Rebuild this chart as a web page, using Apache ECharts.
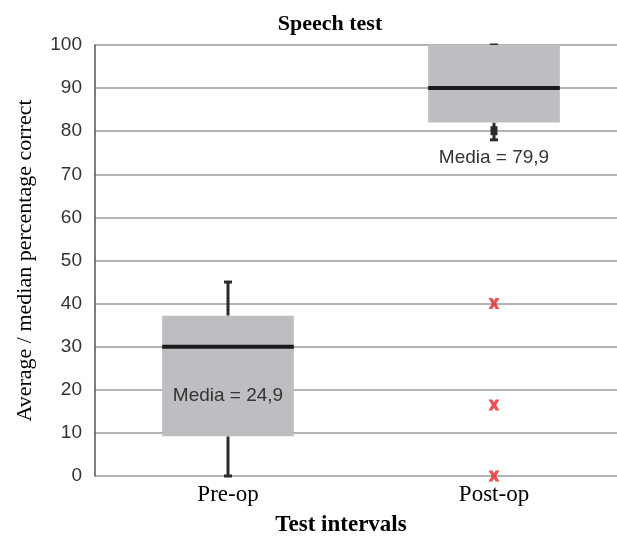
<!DOCTYPE html>
<html>
<head>
<meta charset="utf-8">
<script src="https://cdn.jsdelivr.net/npm/echarts@6/dist/echarts.min.js"></script>
<style>
  html, body { margin: 0; padding: 0; background: #fff; }
  #main { width: 617px; height: 538px; }
</style>
</head>
<body>
<div id="main"></div>
<script>
// data
var categories = ['Pre-op', 'Post-op'];
var whiskerLow = [0, 78];
var quartile1 = [9.2, 82];
var medians = [30, 90];
var quartile3 = [37.2, 100];
var whiskerHigh = [45, 100];
var lowMarks = [null, 80];
var mediaLabels = ['Media = 24,9', 'Media = 79,9'];
var outliers = [[1, 40], [1, 16.5], [1, 0]];
var yTicks = [0, 10, 20, 30, 40, 50, 60, 70, 80, 90, 100];

var boxData = categories.map(function (c, i) {
    return [i, whiskerLow[i], quartile1[i], medians[i], quartile3[i], whiskerHigh[i], lowMarks[i]];
});

var xMark = 'path://M0,0 L3.5,0 L5,2.5 L6.5,0 L10,0 L7,5 L10,10 L6.5,10 L5,7.5 L3.5,10 L0,10 L3,5 Z';

function renderBox(params, api) {
    var i = api.value(0);
    var x = api.coord([i, 0])[0];
    var half = api.size([1, 0])[0] * 0.495 / 2;
    var yLow = api.coord([i, api.value(1)])[1];
    var yQ1 = api.coord([i, api.value(2)])[1];
    var yMed = api.coord([i, api.value(3)])[1];
    var yQ3 = api.coord([i, api.value(4)])[1];
    var yHigh = api.coord([i, api.value(5)])[1];
    var dark = '#2b2b2b';
    var line = { stroke: dark, lineWidth: 3 };
    var kids = [
        { type: 'line', shape: { x1: x, y1: yQ1, x2: x, y2: yLow }, style: line },
        { type: 'line', shape: { x1: x, y1: yQ3, x2: x, y2: yHigh }, style: line },
        { type: 'line', shape: { x1: x - 4, y1: yLow, x2: x + 4, y2: yLow }, style: line },
        { type: 'line', shape: { x1: x - 4, y1: yHigh, x2: x + 4, y2: yHigh }, style: line },
        { type: 'rect', shape: { x: x - half, y: yQ3, width: half * 2, height: yQ1 - yQ3 },
          style: { fill: '#bdbec1' } },
        { type: 'line', shape: { x1: x - half, y1: yMed, x2: x + half, y2: yMed },
          style: { stroke: '#1a1a1a', lineWidth: 4 } }
    ];
    var mark = api.value(6);
    if (mark != null && !isNaN(mark)) {
        var ym = api.coord([i, mark])[1];
        kids.push({ type: 'rect', shape: { x: x - 3.5, y: ym - 5, width: 7, height: 9 },
                    style: { fill: dark } });
    }
    var ty = i === 0 ? (yMed + yQ1) / 2 + 4 : yLow + 18;
    kids.push({ type: 'text', style: {
        x: x, y: ty, text: mediaLabels[i], fill: '#333',
        font: '19px "Liberation Sans", Arial, sans-serif',
        textAlign: 'center', textVerticalAlign: 'middle' } });
    return { type: 'group', children: kids };
}

var serif = '"Liberation Serif", "Times New Roman", serif';
var chart = echarts.init(document.getElementById('main'));
chart.setOption({
    animation: false,
    backgroundColor: '#fff',
    title: {
        text: 'Speech test',
        left: 325,
        top: 8,
        textAlign: 'center',
        textStyle: { fontFamily: serif, fontSize: 22, fontWeight: 'bold', color: '#000' }
    },
    grid: { left: 95, right: -10, top: 45, bottom: 62, outerBoundsMode: 'none', containLabel: false },
    xAxis: {
        type: 'category',
        data: categories,
        name: 'Test intervals',
        nameLocation: 'middle',
        nameGap: 38,
        nameTextStyle: { fontFamily: serif, fontSize: 23, fontWeight: 'bold', color: '#000', padding: [0, 0, 0, -40] },
        axisLine: { show: false },
        axisTick: { show: false },
        axisLabel: { fontFamily: serif, fontSize: 23, color: '#000', margin: 7 }
    },
    yAxis: {
        type: 'value',
        min: 0,
        max: 100,
        interval: 10,
        name: 'Average / median percentage correct',
        nameLocation: 'middle',
        nameGap: 59,
        nameTextStyle: { fontFamily: serif, fontSize: 22, color: '#000' },
        axisLine: { show: true, lineStyle: { color: '#555', width: 1.5 } },
        axisTick: { show: false },
        axisLabel: {
            fontFamily: '"Liberation Sans", Arial, sans-serif', fontSize: 19, color: '#333', margin: 13,
            formatter: function (v) { return yTicks.indexOf(v) >= 0 ? String(v) : ''; }
        },
        splitLine: { show: true, lineStyle: { color: '#9a9a9a', width: 1.5 } }
    },
    series: [{
        type: 'custom',
        renderItem: renderBox,
        data: boxData,
        encode: { x: 0, y: [1, 2, 3, 4, 5] },
        z: 3
    }, {
        type: 'scatter',
        data: outliers,
        symbol: xMark,
        symbolSize: 11,
        itemStyle: { color: '#e8262b' },
        z: 4
    }]
});
</script>
</body>
</html>
